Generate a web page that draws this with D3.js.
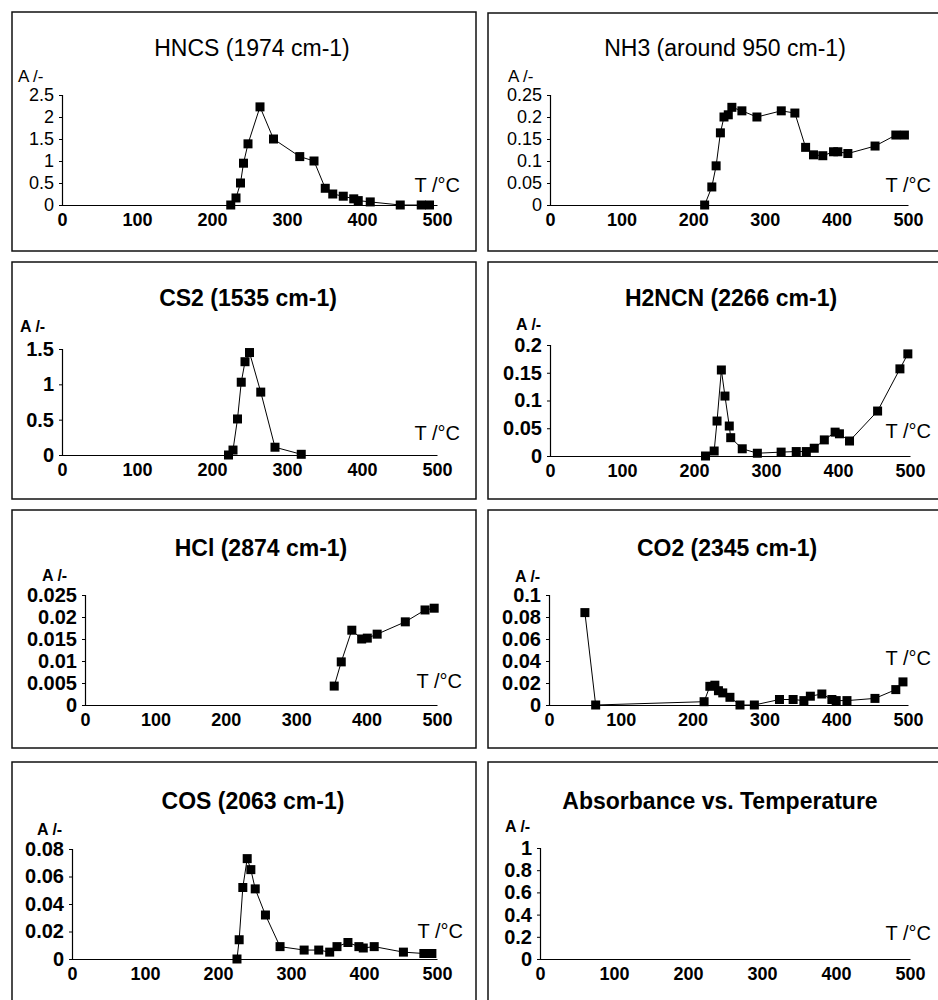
<!DOCTYPE html>
<html>
<head>
<meta charset="utf-8">
<script src="https://cdn.jsdelivr.net/npm/d3@7"></script>
<style>
  body { margin: 0; background: #fff; }
  svg { display: block; font-family: "Liberation Sans", Arial, sans-serif; }
</style>
</head>
<body>
<div id="chart"></div>
<script>
// Temperature / absorbance readings for each gas
var hncsT = [225, 232, 238, 242, 248, 264, 282, 317, 336, 351, 361, 375, 389, 395, 411, 451, 479, 490];
var hncsA = [0, 0.16, 0.5, 0.95, 1.39, 2.23, 1.5, 1.1, 1.0, 0.38, 0.25, 0.2, 0.14, 0.1, 0.07, 0, 0, 0];

var nh3T = [216, 226, 232, 238, 243, 249, 254, 268, 289, 323, 342, 357, 368, 381, 396, 402, 416, 454, 483, 495];
var nh3A = [0, 0.041, 0.089, 0.164, 0.2, 0.205, 0.222, 0.214, 0.2, 0.214, 0.209, 0.131, 0.114, 0.112, 0.121, 0.121, 0.117, 0.134, 0.159, 0.159];

var cs2T = [222, 228, 234, 239, 244, 250, 265, 284, 319];
var cs2A = [0, 0.07, 0.51, 1.03, 1.32, 1.45, 0.89, 0.11, 0.01];

var h2ncnT = [216, 228, 232, 238, 243, 249, 251, 267, 288, 321, 342, 356, 367, 381, 396, 402, 416, 455, 486, 497];
var h2ncnA = [0, 0.009, 0.063, 0.155, 0.108, 0.054, 0.033, 0.013, 0.005, 0.007, 0.008, 0.008, 0.014, 0.029, 0.043, 0.04, 0.027, 0.081, 0.157, 0.184];

var hclT = [354, 364, 379, 393, 401, 415, 455, 483, 496];
var hclA = [0.0043, 0.0098, 0.017, 0.015, 0.0152, 0.0161, 0.0189, 0.0216, 0.022];

var co2T = [50, 65, 216, 224, 231, 236, 242, 252, 266, 286, 321, 340, 355, 364, 380, 394, 400, 415, 454, 483, 493];
var co2A = [0.084, 0, 0.003, 0.017, 0.018, 0.013, 0.011, 0.007, 0, 0, 0.005, 0.005, 0.004, 0.008, 0.01, 0.005, 0.004, 0.004, 0.006, 0.014, 0.021];

var cosT = [226, 229, 234, 240, 245, 251, 265, 285, 318, 338, 353, 363, 378, 393, 399, 414, 454, 482, 493];
var cosA = [0, 0.014, 0.052, 0.073, 0.065, 0.051, 0.032, 0.009, 0.0065, 0.0065, 0.005, 0.009, 0.012, 0.009, 0.008, 0.009, 0.005, 0.004, 0.004];

var xTicks = [0, 100, 200, 300, 400, 500];
var titles = ["HNCS (1974 cm-1)", "NH3 (around 950 cm-1)", "CS2 (1535 cm-1)", "H2NCN (2266 cm-1)",
              "HCl (2874 cm-1)", "CO2 (2345 cm-1)", "COS (2063 cm-1)", "Absorbance vs. Temperature"];
var yTicks = [
  [0, 0.5, 1, 1.5, 2, 2.5],
  [0, 0.05, 0.1, 0.15, 0.2, 0.25],
  [0, 0.5, 1, 1.5],
  [0, 0.05, 0.1, 0.15, 0.2],
  [0, 0.005, 0.01, 0.015, 0.02, 0.025],
  [0, 0.02, 0.04, 0.06, 0.08, 0.1],
  [0, 0.02, 0.04, 0.06, 0.08],
  [0, 0.2, 0.4, 0.6, 0.8, 1]
];
var seriesT = [hncsT, nh3T, cs2T, h2ncnT, hclT, co2T, cosT, []];
var seriesA = [hncsA, nh3A, cs2A, h2ncnA, hclA, co2A, cosA, []];

var width = 938, height = 1000;

// panel layout: box, plot area, label spots (page pixels)
var layout = [
  { box: [12, 12, 476, 251],  x0: 62,  x1: 437, yTop: 95,  yBot: 205, tx: 252, ty: 56,  ax: 18,  ay: 82,  Tx: 460, Ty: 192, bold: false },
  { box: [488, 13, 945, 251], x0: 550, x1: 908, yTop: 95,  yBot: 205, tx: 725, ty: 56,  ax: 508, ay: 82,  Tx: 931, Ty: 192, bold: false },
  { box: [12, 262, 476, 499], x0: 62,  x1: 437, yTop: 349, yBot: 455, tx: 248, ty: 306, ax: 20,  ay: 332, Tx: 460, Ty: 440, bold: true },
  { box: [488, 262, 945, 499],x0: 550, x1: 910, yTop: 345, yBot: 456, tx: 731, ty: 306, ax: 516, ay: 330, Tx: 931, Ty: 438, bold: true },
  { box: [12, 510, 476, 748], x0: 85,  x1: 437, yTop: 595, yBot: 705, tx: 261, ty: 556, ax: 42,  ay: 581, Tx: 462, Ty: 688, bold: true },
  { box: [488, 510, 945, 748],x0: 549, x1: 908, yTop: 595, yBot: 705, tx: 727, ty: 556, ax: 515, ay: 582, Tx: 931, Ty: 665, bold: true },
  { box: [12, 762, 476, 1010],x0: 72,  x1: 437, yTop: 849, yBot: 959, tx: 253, ty: 809, ax: 37,  ay: 835, Tx: 463, Ty: 938, bold: true },
  { box: [488, 762, 945, 1010],x0: 540,x1: 910, yTop: 848, yBot: 959, tx: 720, ty: 809, ax: 505, ay: 832, Tx: 931, Ty: 940, bold: true }
];

var svg = d3.select("#chart")
            .append("svg")
            .attr("width", width)
            .attr("height", height);

layout.forEach(function(p, i) {
  var g = svg.append("g");

  // panel frame
  g.append("rect")
   .attr("x", p.box[0]).attr("y", p.box[1])
   .attr("width", p.box[2] - p.box[0]).attr("height", p.box[3] - p.box[1])
   .attr("fill", "none").attr("stroke", "#111").attr("stroke-width", 1.5);

  var xScale = d3.scaleLinear().domain([0, 500]).range([p.x0, p.x1]);
  var yMax = yTicks[i][yTicks[i].length - 1];
  var yScale = d3.scaleLinear().domain([0, yMax]).range([p.yBot, p.yTop]);

  // title
  g.append("text")
   .attr("x", p.tx).attr("y", p.ty)
   .attr("text-anchor", "middle")
   .attr("font-size", 23)
   .attr("font-weight", p.bold ? "bold" : "normal")
   .text(titles[i]);

  g.append("text")
   .attr("x", p.ax).attr("y", p.ay)
   .attr("font-size", p.bold ? 16 : 17)
   .attr("font-weight", p.bold ? "bold" : "normal")
   .text("A /-");

  g.append("text")
   .attr("x", p.Tx).attr("y", p.Ty)
   .attr("text-anchor", "end")
   .attr("font-size", 20)
   .text("T /°C");

  // axes
  var xAxis = g.append("g")
   .attr("transform", "translate(0," + p.yBot + ")")
   .call(d3.axisBottom(xScale).tickValues(xTicks).tickSize(0).tickPadding(8).tickFormat(String));
  xAxis.selectAll("text").attr("font-size", 18).attr("font-weight", "bold").attr("fill", "#000");

  var yAxis = g.append("g")
   .attr("transform", "translate(" + p.x0 + ",0)")
   .call(d3.axisLeft(yScale).tickValues(yTicks[i]).tickSize(3).tickPadding(5).tickFormat(String));
  yAxis.selectAll("text").attr("font-size", p.bold ? 20 : 18)
       .attr("font-weight", p.bold ? "bold" : "normal").attr("fill", "#000");

  [xAxis, yAxis].forEach(function(ax) {
    ax.select(".domain").attr("stroke", "#000").attr("stroke-width", 1.2);
    ax.selectAll(".tick line").attr("stroke", "#000");
  });

  // data line and square markers
  var pts = seriesT[i].map(function(t, j) { return { t: t, a: seriesA[i][j] }; });

  g.append("path")
   .datum(pts)
   .attr("fill", "none")
   .attr("stroke", "#000")
   .attr("stroke-width", 1)
   .attr("d", d3.line()
     .x(function(d) { return xScale(d.t); })
     .y(function(d) { return yScale(d.a); }));

  g.selectAll("rect.pt")
   .data(pts)
   .enter()
   .append("rect")
   .attr("class", "pt")
   .attr("x", function(d) { return xScale(d.t) - 4.5; })
   .attr("y", function(d) { return yScale(d.a) - 4.5; })
   .attr("width", 9)
   .attr("height", 9)
   .attr("fill", "#000");
});
</script>
</body>
</html>
